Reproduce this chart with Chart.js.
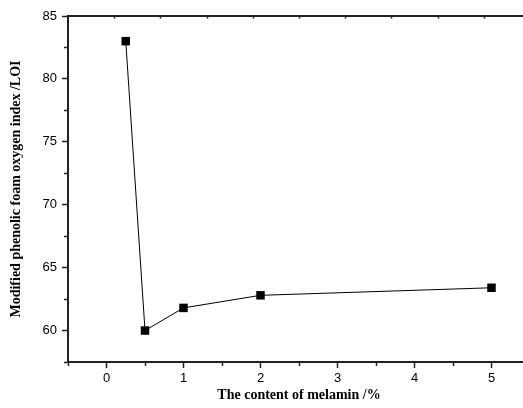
<!DOCTYPE html>
<html>
<head>
<meta charset="utf-8">
<script src="https://cdn.jsdelivr.net/npm/chart.js@4/dist/chart.umd.min.js"></script>
<style>
  html, body { margin: 0; padding: 0; background: #fff; overflow: hidden; width: 523px; height: 408px; }
  canvas { display: block; }
</style>
</head>
<body>
<canvas id="c" width="530" height="408"></canvas>
<script>
// Data
const melaminContent = [0.25, 0.5, 1, 2, 5];          // x values, %
const oxygenIndex    = [83, 60, 61.8, 62.8, 63.4];     // LOI
const xTickLabels    = [0, 1, 2, 3, 4, 5];
const yTickLabels    = [60, 65, 70, 75, 80, 85];

const xTitle = 'The content of melamin /%';
const yTitle = 'Modified phenolic foam oxygen index /LOI';

const points = melaminContent.map((v, i) => ({ x: v, y: oxygenIndex[i] }));

const axisColor = '#222';

const extras = {
  id: 'extras',
  afterDraw(chart) {
    const { ctx, chartArea: a, scales: { x, y } } = chart;
    ctx.save();
    ctx.strokeStyle = axisColor;
    ctx.lineWidth = 2;
    // top frame line
    ctx.beginPath();
    ctx.moveTo(a.left - 1, a.top);
    ctx.lineTo(a.right, a.top);
    ctx.stroke();
    ctx.lineWidth = 1.5;
    // minor ticks on bottom axis
    x.ticks.forEach(t => {
      if (!xTickLabels.includes(t.value)) {
        const px = Math.round(x.getPixelForValue(t.value)) + 0.5;
        ctx.beginPath(); ctx.moveTo(px, a.bottom); ctx.lineTo(px, a.bottom + 4); ctx.stroke();
      }
    });
    // minor ticks on left axis
    y.ticks.forEach(t => {
      if (!yTickLabels.includes(t.value)) {
        const py = Math.round(y.getPixelForValue(t.value)) + 0.5;
        ctx.beginPath(); ctx.moveTo(a.left, py); ctx.lineTo(a.left - 4, py); ctx.stroke();
      }
    });
    // small inward ticks on the top frame
    for (let i = 1; i < 10; i++) {
      const px = Math.round(a.left + (a.right - a.left) * i / 10) + 0.5;
      ctx.beginPath(); ctx.moveTo(px, a.top); ctx.lineTo(px, a.top + 2.5); ctx.stroke();
    }
    ctx.restore();
  }
};

new Chart(document.getElementById('c'), {
  type: 'scatter',
  data: {
    datasets: [{
      data: points,
      showLine: true,
      borderColor: '#000',
      borderWidth: 1,
      backgroundColor: '#000',
      pointStyle: 'rect',
      pointRadius: 6,
      pointBorderWidth: 0,
      pointBackgroundColor: '#000',
      tension: 0
    }]
  },
  options: {
    responsive: false,
    animation: false,
    devicePixelRatio: 1,
    layout: { autoPadding: false, padding: { top: 16, right: 0, left: 0, bottom: 0 } },
    plugins: { legend: { display: false }, tooltip: { enabled: false } },
    scales: {
      x: {
        type: 'linear',
        min: -0.5,
        max: 5.5,
        afterFit(s) { s.height = 46; s.paddingRight = 0; s.paddingLeft = 0; },
        ticks: {
          stepSize: 0.5,
          autoSkip: false,
          maxRotation: 0,
          padding: 3,
          color: '#000',
          font: { family: 'Liberation Sans', size: 13 },
          callback: v => xTickLabels.includes(v) ? String(v) : ''
        },
        grid: {
          drawOnChartArea: false,
          drawTicks: true,
          tickLength: 6,
          tickWidth: 1.5,
          tickColor: ctx => (ctx.tick && xTickLabels.includes(ctx.tick.value)) ? axisColor : 'rgba(0,0,0,0)'
        },
        border: { display: true, color: axisColor, width: 2 },
        title: {
          display: true,
          text: xTitle,
          color: '#000',
          padding: { top: 0, bottom: 4 },
          font: { family: 'Liberation Serif', size: 14, weight: 'bold' }
        }
      },
      y: {
        min: 57.5,
        max: 85,
        afterFit(s) { s.width = 68; s.paddingTop = 0; s.paddingBottom = 0; },
        ticks: {
          stepSize: 2.5,
          autoSkip: false,
          padding: 5,
          color: '#000',
          font: { family: 'Liberation Sans', size: 13 },
          callback: v => yTickLabels.includes(v) ? String(v) : ''
        },
        grid: {
          drawOnChartArea: false,
          drawTicks: true,
          tickLength: 6,
          tickWidth: 1.5,
          tickColor: ctx => (ctx.tick && yTickLabels.includes(ctx.tick.value)) ? axisColor : 'rgba(0,0,0,0)'
        },
        border: { display: true, color: axisColor, width: 2 },
        title: {
          display: true,
          text: yTitle,
          color: '#000',
          padding: { top: 8, bottom: 0 },
          font: { family: 'Liberation Serif', size: 14, weight: 'bold' }
        }
      }
    }
  },
  plugins: [extras]
});
</script>
</body>
</html>
